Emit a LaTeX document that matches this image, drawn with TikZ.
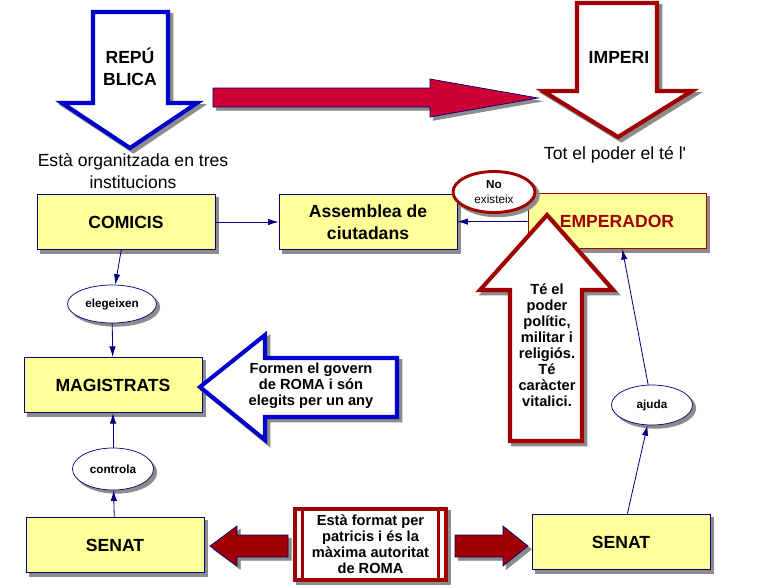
\documentclass[tikz,border=0pt]{standalone}
\usepackage{fontspec}
\setmainfont{Liberation Sans}
\usetikzlibrary{arrows.meta,shapes.geometric}
\definecolor{navy}{HTML}{000080}
\definecolor{deepblue}{HTML}{0000CC}
\definecolor{darkred}{HTML}{A00000}
\definecolor{crimson}{HTML}{CC0033}
\definecolor{paleyellow}{HTML}{FFFF99}
\definecolor{shdgray}{HTML}{8C8C8C}
\newcommand{\fbig}{\fontsize{15}{18.5}\selectfont}
\newcommand{\fmid}{\fontsize{12.5}{13.7}\selectfont}
\newcommand{\fsml}{\fontsize{10}{12}\selectfont}

\begin{document}
\begin{tikzpicture}[x=0.03cm,y=-0.03cm,
   shd/.style={preaction={draw=shdgray,fill=shdgray,line width=#1,
      transform canvas={shift={(2.8pt,-2.8pt)}}}},
   shd/.default=0.6pt,
   box/.style={rectangle,draw=navy,fill=paleyellow,line width=0.6pt,shd,
      minimum width=5.34cm,minimum height=1.66cm,inner sep=0pt,
      font=\fbig\bfseries,align=center},
   bubble/.style={ellipse,draw=navy,fill=white,line width=0.6pt,shd,
      inner sep=0pt,font=\fsml\bfseries,align=center},
   link/.style={draw=navy,line width=0.7pt,-{Latex[length=9pt,width=5.5pt]}},
   bigarrow/.style={fill=white,line width=3.5pt,shd=3.5pt}]
   \useasboundingbox (0,0) rectangle (758,587);
   \draw[bigarrow,draw=deepblue]
    (93,12) -- (168,12) -- (168,103) -- (197,103) -- (130,148) -- (62,103) -- (93,103) -- cycle;
   \draw[fill=crimson,draw=navy,line width=0.6pt,shd]
    (213,88) -- (430,88) -- (430,79) -- (538,98) -- (430,117) -- (430,107) -- (213,107) -- cycle;
   \draw[bigarrow,draw=darkred]
    (577,3) -- (657,3) -- (657,91) -- (692,91) -- (618,137) -- (543,91) -- (577,91) -- cycle;
   \node[font=\fbig\bfseries,align=center] (republica) at (130,67) {REPÚ\\BLICA};
   \node[font=\fbig\bfseries] (imperi) at (619,57) {IMPERI};
   \node[font=\fbig,align=center] (organitzada) at (133,171) {Està organitzada en tres\\institucions};
   \node[font=\fbig] (totpoder) at (615,155) {Tot el poder el té l\textquotesingle};
   \node[box] (comicis)    at (126,222) {COMICIS};
   \node[box] (assemblea)  at (368,222) {Assemblea de\\ciutadans};
   \node[box,draw=darkred,text=darkred] (emperador) at (617,221) {EMPERADOR};
   \node[box] (magistrats) at (113,385) {MAGISTRATS};
   \node[box] (senatL)     at (115,545) {SENAT};
   \node[box] (senatR)     at (621,542) {SENAT};
   \node[bubble,minimum width=2.67cm,minimum height=1.14cm] (elegeixen) at (112,304) {elegeixen};
   \node[bubble,minimum width=2.43cm,minimum height=1.26cm] (controla)  at (113,469) {controla};
   \node[bubble,minimum width=2.43cm,minimum height=1.2cm]  (ajuda)     at (652,405) {ajuda};
   \node[bubble,draw=darkred,line width=2.5pt,shd=2.5pt,font=\fsml,
    minimum width=2.46cm,minimum height=1.23cm] (noexisteix) at (494,192) {\textbf{No}\\existeix};
   \draw[link] (comicis) -- (assemblea);
   \draw[link] (emperador) -- (assemblea);
   \draw[link] (comicis) -- (elegeixen);
   \draw[link] (elegeixen) -- (magistrats);
   \draw[link] (senatL) -- (controla);
   \draw[link] (controla) -- (magistrats);
   \draw[link] (senatR) -- (ajuda);
   \draw[link] (ajuda) -- (emperador);
   \draw[bigarrow,draw=darkred]
    (547,215) -- (613,290) -- (582,290) -- (582,441) -- (510,441) -- (510,290) -- (480,290) -- cycle;
   \node[font=\fmid\bfseries,align=center] (tepoder) at (547,345)
    {Té el\\poder\\polític,\\militar i\\religiós.\\Té\\caràcter\\vitalici.};
   \draw[bigarrow,draw=deepblue]
    (200,387) -- (265,335) -- (265,358) -- (397,358) -- (397,417) -- (265,417) -- (265,440) -- cycle;
   \node[font=\fmid\bfseries,align=center] (formen) at (311,386)
    {Formen el govern\\de ROMA i són\\elegits per un any};
   \node[draw=darkred,fill=white,line width=3.5pt,shd=3.5pt,minimum width=4.53cm,minimum height=2.13cm,
    inner sep=0pt,font=\fmid\bfseries,align=center] (patricis) at (370.5,544.5)
    {Està format per\\patricis i és la\\màxima autoritat\\de ROMA};
   \draw[darkred,line width=2.5pt] ([xshift=0.3cm]patricis.north west) -- ([xshift=0.3cm]patricis.south west);
   \draw[darkred,line width=2.5pt] ([xshift=-0.3cm]patricis.north east) -- ([xshift=-0.3cm]patricis.south east);
   \draw[fill=darkred,draw=navy,line width=0.6pt,shd]
    (288,535) -- (237,535) -- (237,526) -- (210,546) -- (237,566) -- (237,557) -- (288,557) -- cycle;
   \draw[fill=darkred,draw=navy,line width=0.6pt,shd]
    (455,535) -- (503,535) -- (503,526) -- (528,546) -- (503,566) -- (503,557) -- (455,557) -- cycle;
\end{tikzpicture}
\end{document}
